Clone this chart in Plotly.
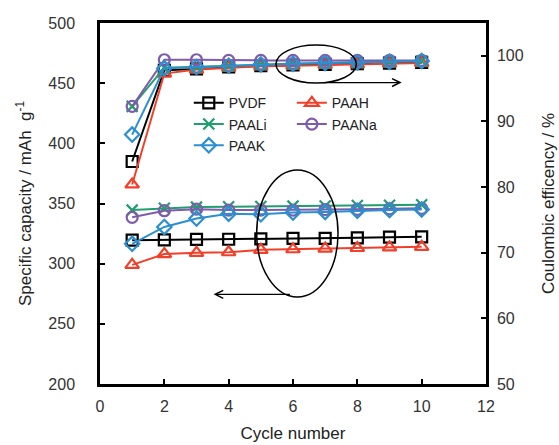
import plotly.graph_objects as go

cycles = [1, 2, 3, 4, 5, 6, 7, 8, 9, 10]
series = ["PVDF", "PAAH", "PAALi", "PAANa", "PAAK"]

cap_pvdf = [319.5, 319.7, 320.2, 320.3, 320.6, 321.0, 321.0, 321.5, 322.0, 322.3]
cap_paah = [299.0, 308.0, 309.0, 309.5, 311.5, 312.0, 312.5, 313.0, 313.5, 314.0]
cap_paali = [344.5, 346.0, 347.0, 347.3, 347.5, 347.8, 348.0, 348.3, 348.6, 349.0]
cap_paana = [338.5, 344.0, 345.3, 344.5, 344.5, 344.5, 345.0, 345.2, 345.5, 346.0]
cap_paak = [316.5, 330.5, 337.5, 341.5, 341.0, 342.5, 343.0, 344.0, 344.5, 345.0]

ce_pvdf = [83.9, 97.8, 98.0, 98.3, 98.5, 98.6, 98.7, 98.8, 98.9, 99.0]
ce_paah = [80.4, 97.3, 97.9, 98.2, 98.4, 98.5, 98.6, 98.7, 98.8, 98.9]
ce_paali = [92.3, 98.2, 98.3, 98.5, 98.7, 98.8, 98.9, 99.0, 99.1, 99.2]
ce_paana = [92.3, 99.4, 99.4, 99.3, 99.3, 99.3, 99.3, 99.3, 99.3, 99.3]
ce_paak = [88.0, 98.1, 98.3, 98.5, 98.7, 98.8, 98.9, 99.0, 99.1, 99.2]

x_ticks = [0, 2, 4, 6, 8, 10, 12]
y_ticks = [200, 250, 300, 350, 400, 450, 500]
y2_ticks = [50, 60, 70, 80, 90, 100]

caps = [cap_pvdf, cap_paah, cap_paali, cap_paana, cap_paak]
ces = [ce_pvdf, ce_paah, ce_paali, ce_paana, ce_paak]
colors = ["#000000", "#f0402a", "#1f9e6e", "#7f5bab", "#2b8fd0"]
symbols = ["square-open", "triangle-up-open", "x-thin-open", "circle-open", "diamond-open"]
sizes = [11, 12, 11, 11, 11]
legends = ["legend", "legend2", "legend", "legend2", "legend"]

fig = go.Figure()
for name, cap, ce, c, s, sz, lg in zip(series, caps, ces, colors, symbols, sizes, legends):
    mk = dict(symbol=s, size=sz, color=c, line=dict(width=2.2, color=c))
    fig.add_trace(go.Scatter(x=cycles, y=ce, yaxis="y2", mode="lines+markers",
                             line=dict(color=c, width=2), marker=mk,
                             name=name, legendgroup=name, showlegend=False))
    fig.add_trace(go.Scatter(x=cycles, y=cap, mode="lines+markers",
                             line=dict(color=c, width=2), marker=mk,
                             name=name, legendgroup=name, showlegend=True, legend=lg))

font = "Liberation Sans, Arial, sans-serif"
axis_common = dict(showline=True, linecolor="black", linewidth=2.5, ticks="inside",
                   ticklen=5, tickwidth=1.5, tickcolor="black", showgrid=False,
                   zeroline=False, automargin=False,
                   tickfont=dict(family=font, size=16, color="#333"))

fig.update_layout(
    width=559, height=445,
    margin=dict(l=100, r=73, t=23, b=61),
    paper_bgcolor="white", plot_bgcolor="white",
    font=dict(family=font, color="#222"),
    xaxis=dict(range=[0, 12], tickvals=x_ticks, mirror=True,
               title=dict(text="Cycle number", font=dict(size=17), standoff=14),
               ticklabelstandoff=6, **axis_common),
    yaxis=dict(range=[200, 500], tickvals=y_ticks,
               title=dict(text="Specific capacity / mAh  g<sup>-1</sup>", font=dict(size=17), standoff=13),
               ticklabelstandoff=19, **axis_common),
    yaxis2=dict(range=[50, 105], tickvals=y2_ticks, overlaying="y", side="right",
                title=dict(text="Coulombic efficency / %", font=dict(size=17), standoff=20),
                ticklabelstandoff=5, **axis_common),
    legend=dict(x=0.23, y=0.822, xanchor="left", yanchor="top", bgcolor="rgba(0,0,0,0)",
                font=dict(family=font, size=14, color="#222"), tracegroupgap=0, itemwidth=30),
    legend2=dict(x=0.497, y=0.822, xanchor="left", yanchor="top", bgcolor="rgba(0,0,0,0)",
                 font=dict(family=font, size=14, color="#222"), tracegroupgap=0, itemwidth=30),
)

# ellipses
fig.add_shape(type="circle", xref="x", yref="y", x0=5.47, x1=7.97, y0=450.1, y1=481.7,
              line=dict(color="black", width=1.5))
fig.add_shape(type="circle", xref="x", yref="y", x0=4.87, x1=7.40, y0=272.3, y1=377.8,
              line=dict(color="black", width=1.5))
# arrows
fig.add_annotation(x=9.38, y=450.5, ax=6.9, ay=450.5, xref="x", yref="y", axref="x", ayref="y",
                   text="", showarrow=True, arrowhead=5, arrowsize=1.2, arrowwidth=1.3, arrowcolor="black")
fig.add_annotation(x=3.53, y=274.5, ax=5.95, ay=274.5, xref="x", yref="y", axref="x", ayref="y",
                   text="", showarrow=True, arrowhead=5, arrowsize=1.2, arrowwidth=1.3, arrowcolor="black")

fig.write_html("out.html")
